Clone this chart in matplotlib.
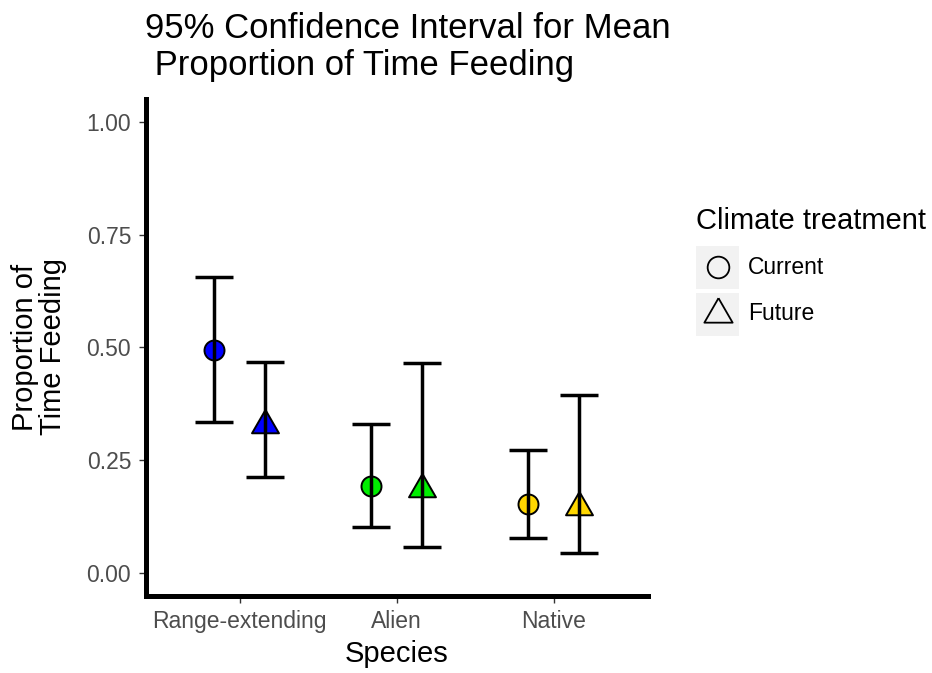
import numpy as np
import matplotlib
matplotlib.use("Agg")
import matplotlib.pyplot as plt
from matplotlib.patches import Rectangle
from matplotlib.lines import Line2D

plt.rcParams["font.family"] = ["Liberation Sans", "DejaVu Sans"]

# data
species = ["Range-extending", "Alien", "Native"]
fills = ["#0000FF", "#00EE00", "#FFD700"]
treatments = ["Current", "Future"]
mean_current = [0.494, 0.193, 0.152]
lower_current = [0.334, 0.102, 0.078]
upper_current = [0.656, 0.331, 0.272]
mean_future = [0.327, 0.186, 0.147]
lower_future = [0.212, 0.057, 0.044]
upper_future = [0.468, 0.465, 0.395]
yticks = [0.0, 0.25, 0.5, 0.75, 1.0]

W, H = 932, 673
# triangle centred on its centroid, like R's pch 24
tri = [(0, 1.555), (1.347, -0.778), (-1.347, -0.778), (0, 1.555)]

fig = plt.figure(figsize=(W / 100, H / 100), dpi=100)
ax = fig.add_axes([145.5 / W, 1 - 595.5 / H, (648 - 145.5) / W, (595.5 - 99.4) / H])

x = np.arange(1, len(species) + 1)
dodge = 0.163
half_cap = 0.121

groups = [
    (x - dodge, mean_current, lower_current, upper_current, "o", 14.4),
    (x + dodge, mean_future, lower_future, upper_future, tri, 22.4),
]
for xs, m, lo, hi, mk, ms in groups:
    for xi, mi, c in zip(xs, m, fills):
        ax.plot([xi], [mi], marker=mk, ms=ms, mfc=c, mec="black", mew=1.4,
                ls="none", zorder=2)
    ax.vlines(xs, lo, hi, color="black", lw=2.5, zorder=3)
    ax.hlines(lo, xs - half_cap, xs + half_cap, color="black", lw=2.5, zorder=3)
    ax.hlines(hi, xs - half_cap, xs + half_cap, color="black", lw=2.5, zorder=3)

ax.set_xlim(0.4, 3.6)
ax.set_ylim(-0.05, 1.05)
ax.set_xticks(x)
ax.set_xticklabels(species)
ax.set_yticks(yticks)
ax.set_yticklabels([f"{v:.2f}" for v in yticks])
for s in ["top", "right"]:
    ax.spines[s].set_visible(False)
for s in ["left", "bottom"]:
    ax.spines[s].set_linewidth(3.6)
ax.tick_params(length=5.3, width=1, color="#333333", labelcolor="#4D4D4D",
               labelsize=16.5, pad=5)

fig.text(145 / W, 1 - 12 / H, "95% Confidence Interval for Mean\n Proportion of Time Feeding",
         fontsize=25, ha="left", va="top", linespacing=1.17)
fig.text(396.7 / W, 1 - 662 / H, "Species", fontsize=21, ha="center", va="baseline")
fig.text(39 / W, 1 - 347 / H, "Proportion of\nTime Feeding", fontsize=21, rotation=90,
         ha="center", va="center", multialignment="center", linespacing=1.0)

# legend
fig.text(696 / W, 1 - 229 / H, "Climate treatment", fontsize=21, ha="left", va="baseline")
for i, (lab, mk, ms) in enumerate(zip(treatments, ["o", tri], [15.6, 23.5])):
    top = 246 + i * 46.5
    fig.add_artist(Rectangle((696 / W, 1 - (top + 43) / H), 43 / W, 43 / H,
                             transform=fig.transFigure, fc="#F2F2F2", ec="none"))
    cy = top + 21.5
    fig.add_artist(Line2D([717.5 / W], [1 - cy / H], marker=mk, ms=ms, mfc="none",
                          mec="black", mew=1.3, ls="none", transform=fig.transFigure))
    fig.text(748 / W, 1 - cy / H, lab, fontsize=16.5, ha="left", va="center")

fig.savefig("out.png", dpi=100)
